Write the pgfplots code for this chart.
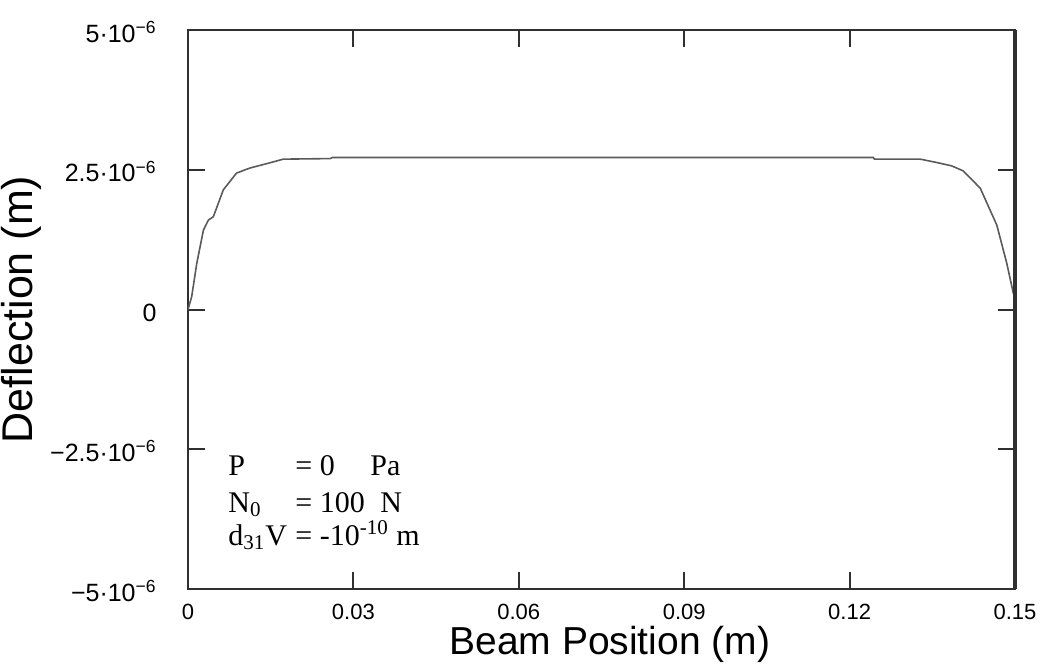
\documentclass[border=0pt]{standalone}
\usepackage{pgfplots}
\pgfplotsset{compat=1.18}
\usepackage{fontspec}
\setmainfont{Liberation Sans}
\newfontfamily\seriffont{Liberation Serif}
\definecolor{axgray}{HTML}{303030}
\definecolor{curvegray}{HTML}{5a5a5a}
\begin{document}
\begin{tikzpicture}
\begin{axis}[
  scale only axis,
  width=413.5pt, height=279.5pt,
  xmin=0, xmax=0.15, ymin=-5e-6, ymax=5e-6,
  axis line style={draw=axgray, line width=1pt},
  xtick={0,0.03,0.06,0.09,0.12,0.15},
  xticklabels={0,0.03,0.06,0.09,0.12,0.15},
  ytick={-5e-6,-2.5e-6,0,2.5e-6,5e-6},
  yticklabels={{−5·10\textsuperscript{−6}},{−2.5·10\textsuperscript{−6}},{0},{2.5·10\textsuperscript{−6}},{5·10\textsuperscript{−6}}},
  scaled ticks=false,
  tick align=inside,
  major tick length=8.5pt,
  tick style={draw=axgray, line width=1pt},
  xticklabel style={font=\fontsize{11}{13}\selectfont, anchor=base, inner sep=0pt, yshift=-15pt},
  yticklabel style={font=\fontsize{12.5}{14}\selectfont, anchor=base east, inner sep=0pt, xshift=-15.5pt, yshift=-6pt},
  xlabel={Beam Position (m)},
  ylabel={Deflection (m)},
  xlabel style={font=\fontsize{19.5}{22}\selectfont, at={(axis description cs:0.51,-0.118)}, anchor=base},
  ylabel style={font=\fontsize{21.5}{24}\selectfont, at={(axis description cs:-0.201,0.5)}, anchor=center, rotate=0},
  clip=false,
]
\addplot[curvegray, line width=0.8pt] coordinates {
(0,0) (0.00067,0.23e-6) (0.0016,0.83e-6) (0.0028,1.42e-6) (0.0037,1.60e-6)
(0.0046,1.66e-6) (0.0064,2.14e-6) (0.0088,2.44e-6) (0.0112,2.53e-6)
(0.0143,2.61e-6) (0.0173,2.69e-6) (0.0258,2.70e-6) (0.0262,2.72e-6)
(0.1243,2.72e-6) (0.1245,2.69e-6) (0.1328,2.69e-6) (0.1358,2.63e-6)
(0.1385,2.57e-6) (0.1406,2.48e-6) (0.1437,2.17e-6) (0.1467,1.51e-6)
(0.1485,0.83e-6) (0.1497,0.29e-6) (0.15,0.25e-6)
};
\draw[axgray, line width=2pt] (rel axis cs:1,0) -- (rel axis cs:1,1);
\node[anchor=base west, inner sep=0pt, font=\seriffont\fontsize{15}{18}\selectfont] at (rel axis cs:0.0484,0.2039) {\makebox[33.5pt][l]{P}\makebox[37.5pt][l]{= 0}Pa};
\node[anchor=base west, inner sep=0pt, font=\seriffont\fontsize{15}{18}\selectfont] at (rel axis cs:0.0484,0.1377) {\makebox[33.5pt][l]{N\textsubscript{0}}\makebox[42.5pt][l]{= 100}N};
\node[anchor=base west, inner sep=0pt, font=\seriffont\fontsize{15}{18}\selectfont] at (rel axis cs:0.0484,0.0787) {\makebox[33.5pt][l]{d\textsubscript{31}V}= -10\textsuperscript{-10} m};
\end{axis}
\pgfresetboundingbox
\path[use as bounding box] ([shift={(-94pt,-41pt)}]current axis.south west) rectangle ++(524pt,335.5pt);
\end{tikzpicture}
\end{document}
